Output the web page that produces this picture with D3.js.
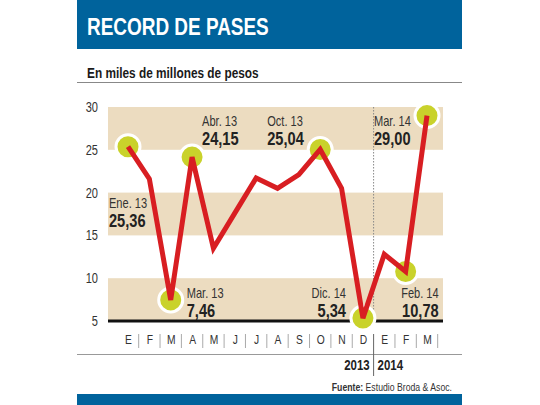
<!DOCTYPE html>
<html>
<head>
<meta charset="utf-8">
<script src="https://cdnjs.cloudflare.com/ajax/libs/d3/7.8.5/d3.min.js"></script>
<style>
  body { margin: 0; background: #fff; }
  svg { display: block; font-family: "Liberation Sans", Arial, sans-serif; }
</style>
</head>
<body>
<svg id="chart" width="540" height="405"></svg>
<script>
// data
var monthKeys = ['2013-01', '2013-02', '2013-03', '2013-04', '2013-05', '2013-06', '2013-07',
  '2013-08', '2013-09', '2013-10', '2013-11', '2013-12', '2014-01', '2014-02', '2014-03'];
var monthLabels = ['E', 'F', 'M', 'A', 'M', 'J', 'J', 'A', 'S', 'O', 'N', 'D', 'E', 'F', 'M'];
var pases = [25.36, 21.6, 7.46, 24.15, 13.5, 17.6, 21.7, 20.5, 22.1, 25.04, 20.5, 5.34, 12.8, 10.78, 29.0];
var yTicks = [5, 10, 15, 20, 25, 30];
var bands = [[25, 30], [15, 20], [5, 10]];
var years = ['2013', '2014'];

// highlighted points: index, label, value text, where the text goes
var callouts = [
  { i: 0, name: 'Ene. 13', value: '25,36', dx: -19, top: 208, anchor: 'start' },
  { i: 2, name: 'Mar. 13', value: '7,46', dx: 16, top: 298, anchor: 'start' },
  { i: 3, name: 'Abr. 13', value: '24,15', dx: 10, top: 126, anchor: 'start' },
  { i: 9, name: 'Oct. 13', value: '25,04', dx: -53, top: 126, anchor: 'start' },
  { i: 11, name: 'Dic. 14', value: '5,34', dx: -17, top: 298, anchor: 'end' },
  { i: 13, name: 'Feb. 14', value: '10,78', dx: 33, top: 298, anchor: 'end' },
  { i: 14, name: 'Mar. 14', value: '29,00', dx: -53, top: 126, anchor: 'start' }
];

var blue = '#00639c';
var narrow = 0.79; // fake a condensed face
var svg = d3.select('#chart');

var x = d3.scalePoint().domain(monthKeys).range([128, 427]);
var y = d3.scaleLinear().domain([5, 30]).range([321, 107]);
var step = x.step();
var plotLeft = 108;
var plotRight = 443;

function condText(parent, px, py, str, anchor) {
  return parent.append('text')
    .attr('transform', 'translate(' + px + ',' + py + ') scale(' + narrow + ',1)')
    .attr('text-anchor', anchor || 'start')
    .text(str);
}

// header
svg.append('rect').attr('x', 77).attr('y', 0).attr('width', 385).attr('height', 49).attr('fill', blue);
condText(svg, 87, 35, 'RECORD DE PASES')
  .attr('fill', '#fff').attr('font-weight', 'bold').attr('font-size', 24);

condText(svg, 87, 78, 'En miles de millones de pesos')
  .attr('fill', '#1a1a1a').attr('font-weight', 'bold').attr('font-size', 15);
svg.append('line').attr('x1', 77).attr('x2', 462).attr('y1', 82.5).attr('y2', 82.5)
  .attr('stroke', '#888').attr('stroke-width', 1);

// bands
svg.selectAll('rect.band').data(bands).enter().append('rect')
  .attr('class', 'band')
  .attr('x', plotLeft)
  .attr('width', plotRight - plotLeft)
  .attr('y', function(d) { return y(d[1]); })
  .attr('height', function(d) { return y(d[0]) - y(d[1]); })
  .attr('fill', '#ecdcc0');

// y axis
var yAxis = svg.append('g').attr('transform', 'translate(98,0)')
  .call(d3.axisLeft(y).tickValues(yTicks).tickSize(0).tickPadding(0));
yAxis.select('.domain').remove();
yAxis.selectAll('text')
  .attr('font-size', 14).attr('fill', '#333').attr('font-family', 'inherit')
  .attr('transform', 'scale(' + narrow + ',1)');

// dotted year separator
var sepX = (x('2013-12') + x('2014-01')) / 2;
svg.append('line').attr('x1', sepX).attr('x2', sepX).attr('y1', y(30)).attr('y2', y(5))
  .attr('stroke', '#888').attr('stroke-width', 1).attr('stroke-dasharray', '1.5,1.5');

// baseline
svg.append('line').attr('x1', plotLeft).attr('x2', plotRight).attr('y1', y(5)).attr('y2', y(5))
  .attr('stroke', '#111').attr('stroke-width', 3);

// month axis
var xAxis = svg.append('g').attr('transform', 'translate(0,335)')
  .call(d3.axisBottom(x).tickSize(0).tickPadding(0)
    .tickFormat(function(d, i) { return monthLabels[i]; }));
xAxis.select('.domain').remove();
xAxis.selectAll('text')
  .attr('font-size', 13).attr('fill', '#333').attr('font-family', 'inherit')
  .attr('transform', 'scale(' + narrow + ',1)');

svg.selectAll('line.msep').data(monthKeys).enter().append('line')
  .attr('class', 'msep')
  .attr('x1', function(d) { return x(d) + step / 2; })
  .attr('x2', function(d) { return x(d) + step / 2; })
  .attr('y1', 334).attr('y2', 348)
  .attr('stroke', function(d) { return d === '2013-12' ? '#666' : '#aaa'; })
  .attr('stroke-width', 1);

svg.append('line').attr('x1', 77).attr('x2', 462).attr('y1', 354.5).attr('y2', 354.5)
  .attr('stroke', '#999').attr('stroke-width', 1);
svg.append('line').attr('x1', sepX).attr('x2', sepX).attr('y1', 348).attr('y2', 376)
  .attr('stroke', '#666').attr('stroke-width', 1);

years.forEach(function(yr, i) {
  condText(svg, i === 0 ? sepX - 4 : sepX + 4, 370, yr, i === 0 ? 'end' : 'start')
    .attr('font-weight', 'bold').attr('font-size', 14.5).attr('fill', '#222');
});

// source
var src = condText(svg, 452, 391, '', 'end').attr('font-size', 11).attr('fill', '#333');
src.append('tspan').text('Fuente: ').attr('font-weight', 'bold');
src.append('tspan').text('Estudio Broda & Asoc.');

svg.append('rect').attr('x', 77).attr('y', 394).attr('width', 385).attr('height', 11).attr('fill', blue);

// dots
svg.selectAll('circle.hl').data(callouts).enter().append('circle')
  .attr('class', 'hl')
  .attr('cx', function(d) { return x(monthKeys[d.i]); })
  .attr('cy', function(d) { return y(pases[d.i]); })
  .attr('r', 12)
  .attr('fill', '#c9d22b')
  .attr('stroke', '#fff').attr('stroke-width', 3);

// line
var line = d3.line()
  .x(function(d, i) { return x(monthKeys[i]); })
  .y(function(d) { return y(d); });
svg.append('path').datum(pases)
  .attr('d', line)
  .attr('fill', 'none')
  .attr('stroke', '#d81e22')
  .attr('stroke-width', 5)
  .attr('stroke-linejoin', 'miter');

// callout texts
callouts.forEach(function(c) {
  var px = x(monthKeys[c.i]) + c.dx;
  condText(svg, px, c.top, c.name, c.anchor)
    .attr('font-size', 14).attr('fill', '#333');
  condText(svg, px, c.top + 18.5, c.value, c.anchor)
    .attr('font-size', 18.5).attr('font-weight', 'bold').attr('fill', '#222');
});
</script>
</body>
</html>
